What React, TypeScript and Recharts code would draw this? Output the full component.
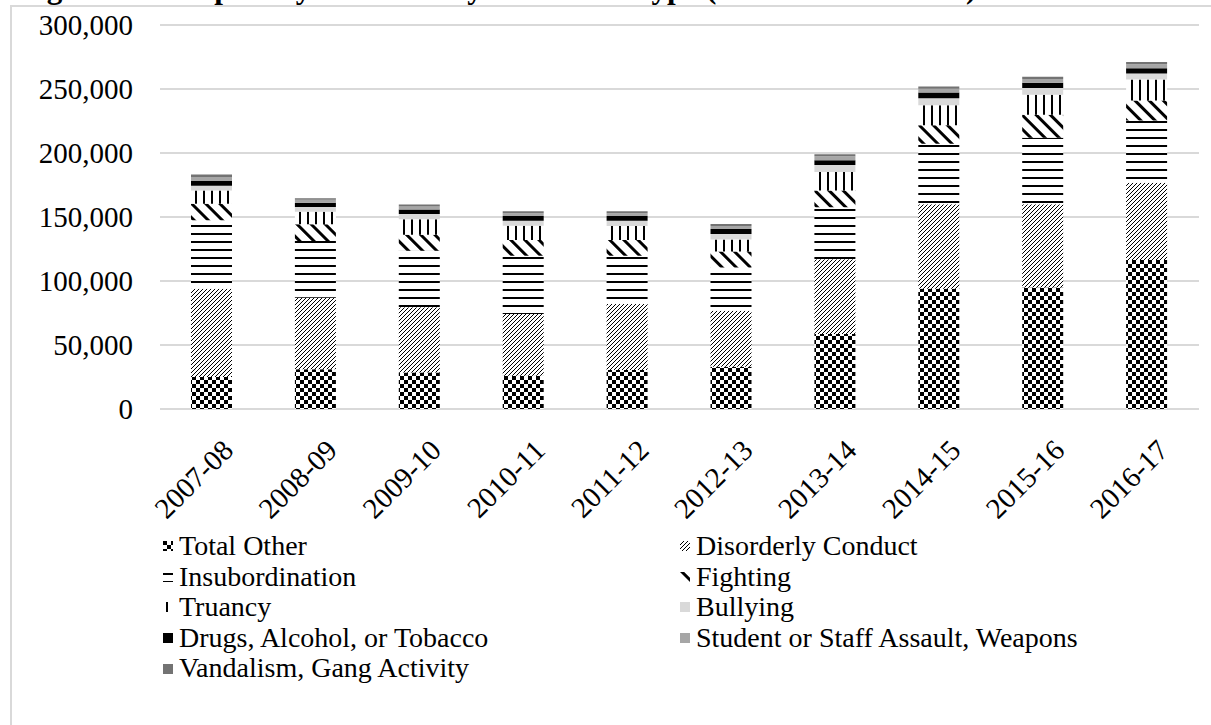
import { BarChart, Bar, XAxis, YAxis, CartesianGrid, Legend } from "recharts";

// School years on the category axis
const years = [
  "2007-08", "2008-09", "2009-10", "2010-11", "2011-12",
  "2012-13", "2013-14", "2014-15", "2015-16", "2016-17",
];

// Incidents per infraction type, stacked bottom to top
const totalOther = [25000, 31000, 28600, 26000, 30500, 33000, 58500, 94000, 95000, 116500];
const disorderlyConduct = [69000, 56000, 50800, 48200, 51600, 43800, 58500, 66000, 65000, 60300];
const insubordination = [53400, 44300, 44300, 45500, 37700, 33800, 40700, 47300, 52000, 48500];
const fighting = [13000, 13000, 12500, 12300, 12300, 12500, 13100, 14400, 17800, 15800];
const truancy = [10400, 9800, 12000, 11200, 10900, 9400, 14400, 15700, 15700, 16300];
const bullying = [3700, 3700, 4200, 3900, 4100, 4200, 5500, 5300, 5200, 4700];
const drugsAlcoholTobacco = [3600, 3400, 3400, 3700, 3700, 3900, 3700, 4500, 4200, 4200];
const assaultWeapons = [3200, 2200, 2400, 2200, 2200, 2400, 3000, 3000, 3000, 3000];
const vandalismGang = [2000, 1300, 1500, 1400, 1400, 1500, 1700, 1700, 1700, 1700];

const yTicks = [0, 50000, 100000, 150000, 200000, 250000, 300000];

const data = years.map((year, i) => ({
  year,
  totalOther: totalOther[i],
  disorderlyConduct: disorderlyConduct[i],
  insubordination: insubordination[i],
  fighting: fighting[i],
  truancy: truancy[i],
  bullying: bullying[i],
  drugsAlcoholTobacco: drugsAlcoholTobacco[i],
  assaultWeapons: assaultWeapons[i],
  vandalismGang: vandalismGang[i],
}));

const series = [
  { key: "totalOther", name: "Total Other", fill: "url(#pat-checker)" },
  { key: "disorderlyConduct", name: "Disorderly Conduct", fill: "url(#pat-updiag)" },
  { key: "insubordination", name: "Insubordination", fill: "url(#pat-horiz)" },
  { key: "fighting", name: "Fighting", fill: "url(#pat-downdiag)" },
  { key: "truancy", name: "Truancy", fill: "url(#pat-vert)" },
  { key: "bullying", name: "Bullying", fill: "#d9d9d9" },
  { key: "drugsAlcoholTobacco", name: "Drugs, Alcohol, or Tobacco", fill: "#000000" },
  { key: "assaultWeapons", name: "Student or Staff Assault, Weapons", fill: "#a6a6a6" },
  { key: "vandalismGang", name: "Vandalism, Gang Activity", fill: "#737373" },
];

const serif = '"Liberation Serif", "Times New Roman", serif';

function YearTick({ x, y, payload }: any) {
  const ax = x + 23;
  const ay = y + 43;
  return (
    <text
      x={ax}
      y={ay}
      transform={`rotate(-45 ${ax} ${ay})`}
      textAnchor="end"
      fontSize={29}
      fontFamily={serif}
      fill="#000"
    >
      {payload.value}
    </text>
  );
}

function LegendGrid() {
  return (
    <div
      style={{
        display: "grid",
        gridTemplateColumns: "517px 517px",
        fontFamily: serif,
        fontSize: 28,
        lineHeight: "30.6px",
        color: "#000",
      }}
    >
      {series.map((s) => (
        <div key={s.key} style={{ display: "flex", alignItems: "center", height: 30.6 }}>
          <svg width={10} height={10} style={{ marginRight: 6, flex: "none" }}>
            <rect width={10} height={10} fill={s.fill} />
          </svg>
          <span style={{ whiteSpace: "nowrap", fontFamily: serif }}>{s.name}</span>
        </div>
      ))}
    </div>
  );
}

export default function App() {
  return (
    <div
      style={{
        position: "fixed",
        left: 0,
        top: 0,
        width: 1211,
        height: 725,
        background: "#fff",
        overflow: "hidden",
      }}
    >
      {/* chart area frame */}
      <div
        style={{
          position: "absolute",
          left: 10,
          top: 5,
          width: 1400,
          height: 900,
          border: "2px solid #d9d9d9",
          boxSizing: "border-box",
        }}
      />
      <div
        style={{
          position: "absolute",
          left: 19,
          top: -28.5,
          whiteSpace: "nowrap",
          fontFamily: serif,
          fontWeight: "bold",
          fontSize: 31.2,
          lineHeight: "31.2px",
          color: "#000",
        }}
      >
        Figure 1: Disciplinary Incidents by Infraction Type (2007-08 to 2016-17)
      </div>
      <div style={{ position: "absolute", left: 0, top: 0 }}>
        <BarChart
          width={1211}
          height={725}
          data={data}
          margin={{ top: 25, right: 12, bottom: 196, left: 0 }}
        >
          <defs>
            <pattern id="pat-checker" width={8} height={8} patternUnits="userSpaceOnUse">
              <rect width={8} height={8} fill="#fff" />
              <rect x={0} y={0} width={4} height={4} fill="#000" />
              <rect x={4} y={4} width={4} height={4} fill="#000" />
            </pattern>
            <pattern id="pat-updiag" width={4} height={4} patternUnits="userSpaceOnUse">
              <rect width={4} height={4} fill="#fff" />
              <path d="M-1,1 L1,-1 M0,4 L4,0 M3,5 L5,3" stroke="#000" strokeWidth={1} />
            </pattern>
            <pattern id="pat-horiz" width={8} height={8} patternUnits="userSpaceOnUse">
              <rect width={8} height={8} fill="#fff" />
              <rect x={0} y={1} width={8} height={2} fill="#000" />
            </pattern>
            <pattern
              id="pat-downdiag"
              width={10}
              height={10}
              patternUnits="userSpaceOnUse"
              patternTransform="rotate(-45)"
            >
              <rect width={10} height={10} fill="#fff" />
              <rect x={0} y={0} width={3} height={10} fill="#000" />
            </pattern>
            <pattern id="pat-vert" width={8} height={8} patternUnits="userSpaceOnUse">
              <rect width={8} height={8} fill="#fff" />
              <rect x={3} y={0} width={2} height={8} fill="#000" />
            </pattern>
          </defs>
          <CartesianGrid vertical={false} stroke="#d9d9d9" strokeWidth={2} />
          <XAxis
            dataKey="year"
            axisLine={false}
            tickLine={false}
            tickSize={0}
            tickMargin={0}
            height={120}
            interval={0}
            tick={<YearTick />}
          />
          <YAxis
            domain={[0, 300000]}
            ticks={yTicks}
            interval={0}
            width={160}
            axisLine={false}
            tickLine={false}
            tickSize={0}
            tickMargin={27}
            tickFormatter={(v: number) => v.toLocaleString("en-US")}
            tick={{ fill: "#000", fontSize: 29, fontFamily: serif }}
          />
          <Legend
            layout="vertical"
            align="center"
            verticalAlign="middle"
            wrapperStyle={{ position: "absolute", left: 163, top: 531, width: 1040 }}
            content={() => <LegendGrid />}
          />
          {series.map((s) => (
            <Bar
              key={s.key}
              dataKey={s.key}
              name={s.name}
              stackId="incidents"
              fill={s.fill}
              barSize={41}
              isAnimationActive={false}
            />
          ))}
        </BarChart>
      </div>
    </div>
  );
}
